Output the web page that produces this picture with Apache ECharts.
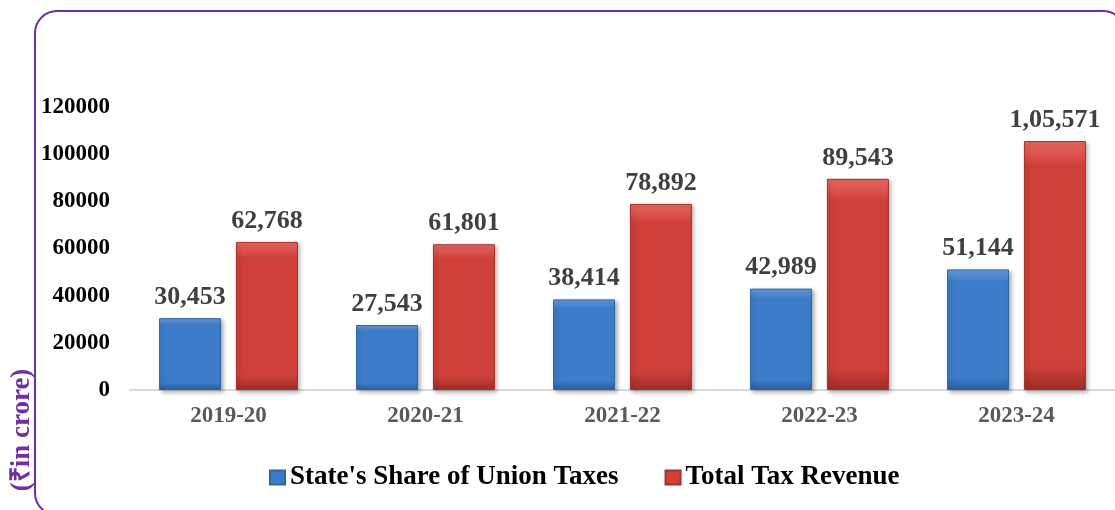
<!DOCTYPE html>
<html>
<head>
<meta charset="utf-8">
<script src="https://cdn.jsdelivr.net/npm/echarts@6/dist/echarts.min.js"></script>
<style>
  html, body { margin: 0; padding: 0; background: #fff; }
  #main { width: 1115px; height: 510px; }
</style>
</head>
<body>
<div id="main"></div>
<script>
var years = ['2019-20', '2020-21', '2021-22', '2022-23', '2023-24'];
var shareUnionTaxes = [30453, 27543, 38414, 42989, 51144];
var totalTaxRevenue = [62768, 61801, 78892, 89543, 105571];
var seriesNames = ["State's Share of Union Taxes", 'Total Tax Revenue'];

var serifFont = '"Liberation Serif", "Times New Roman", serif';

// indian grouping: 1,05,571
function inrFormat(n) {
    var s = String(Math.round(n));
    if (s.length <= 3) return s;
    var last3 = s.slice(-3);
    var rest = s.slice(0, -3);
    rest = rest.replace(/\B(?=(\d{2})+(?!\d))/g, ',');
    return rest + ',' + last3;
}

function grad(top, mid, bottom) {
    return new echarts.graphic.LinearGradient(0, 0, 0, 1, [
        { offset: 0, color: top },
        { offset: 0.1, color: mid },
        { offset: 0.9, color: mid },
        { offset: 1, color: bottom }
    ]);
}

var valueLabel = {
    show: true,
    position: 'top',
    distance: 8,
    fontFamily: serifFont,
    fontWeight: 'bold',
    fontSize: 26,
    color: '#404040',
    formatter: function (p) { return inrFormat(p.value); }
};

option = {
    animation: false,
    backgroundColor: '#fff',
    textStyle: { fontFamily: serifFont },
    grid: {
        left: 130,
        right: 0,
        top: 107,
        bottom: 120
    },
    legend: {
        data: seriesNames,
        left: 264,
        top: 459,
        itemWidth: 15,
        itemHeight: 14,
        itemGap: 46,
        icon: 'rect',
        textStyle: {
            fontFamily: serifFont,
            fontWeight: 'bold',
            fontSize: 27,
            color: '#000'
        }
    },
    xAxis: {
        type: 'category',
        data: years,
        axisLine: { lineStyle: { color: '#d9d9d9', width: 2 } },
        axisTick: { show: false },
        axisLabel: {
            margin: 15,
            fontFamily: serifFont,
            fontWeight: 'bold',
            fontSize: 23,
            color: '#595959'
        }
    },
    yAxis: {
        type: 'value',
        min: 0,
        max: 120000,
        interval: 20000,
        splitLine: { show: false },
        axisLine: { show: false },
        axisTick: { show: false },
        axisLabel: {
            margin: 20,
            fontFamily: serifFont,
            fontWeight: 'bold',
            fontSize: 23,
            color: '#000',
            formatter: function (v) { return String(v); }
        }
    },
    graphic: [
        {
            type: 'rect',
            shape: { x: 35, y: 11, width: 1090, height: 504, r: 22 },
            style: { fill: 'none', stroke: '#7030A0', lineWidth: 2 },
            silent: true
        },
        {
            type: 'text',
            x: 22,
            y: 430,
            rotation: Math.PI / 2,
            style: {
                text: '(\u20B9in crore)',
                fill: '#7030A0',
                font: 'bold 27px ' + serifFont,
                align: 'center',
                verticalAlign: 'middle'
            }
        }
    ],
    series: [
        {
            name: seriesNames[0],
            type: 'bar',
            barWidth: 62,
            barGap: '24%',
            data: shareUnionTaxes,
            itemStyle: {
                color: grad('#6a9fe0', '#3d7cc9', '#2b5c9c'),
                borderColor: '#2f65a8',
                borderWidth: 1,
                shadowBlur: 4,
                shadowOffsetX: 2,
                shadowOffsetY: 2,
                shadowColor: 'rgba(0,0,0,0.3)'
            },
            label: valueLabel
        },
        {
            name: seriesNames[1],
            type: 'bar',
            barWidth: 62,
            data: totalTaxRevenue,
            itemStyle: {
                color: grad('#e86a64', '#d0403a', '#9c2d28'),
                borderColor: '#a8302c',
                borderWidth: 1,
                shadowBlur: 4,
                shadowOffsetX: 2,
                shadowOffsetY: 2,
                shadowColor: 'rgba(0,0,0,0.3)'
            },
            label: valueLabel
        }
    ]
};

var myChart = echarts.init(document.getElementById('main'));
myChart.setOption(option);
</script>
</body>
</html>
